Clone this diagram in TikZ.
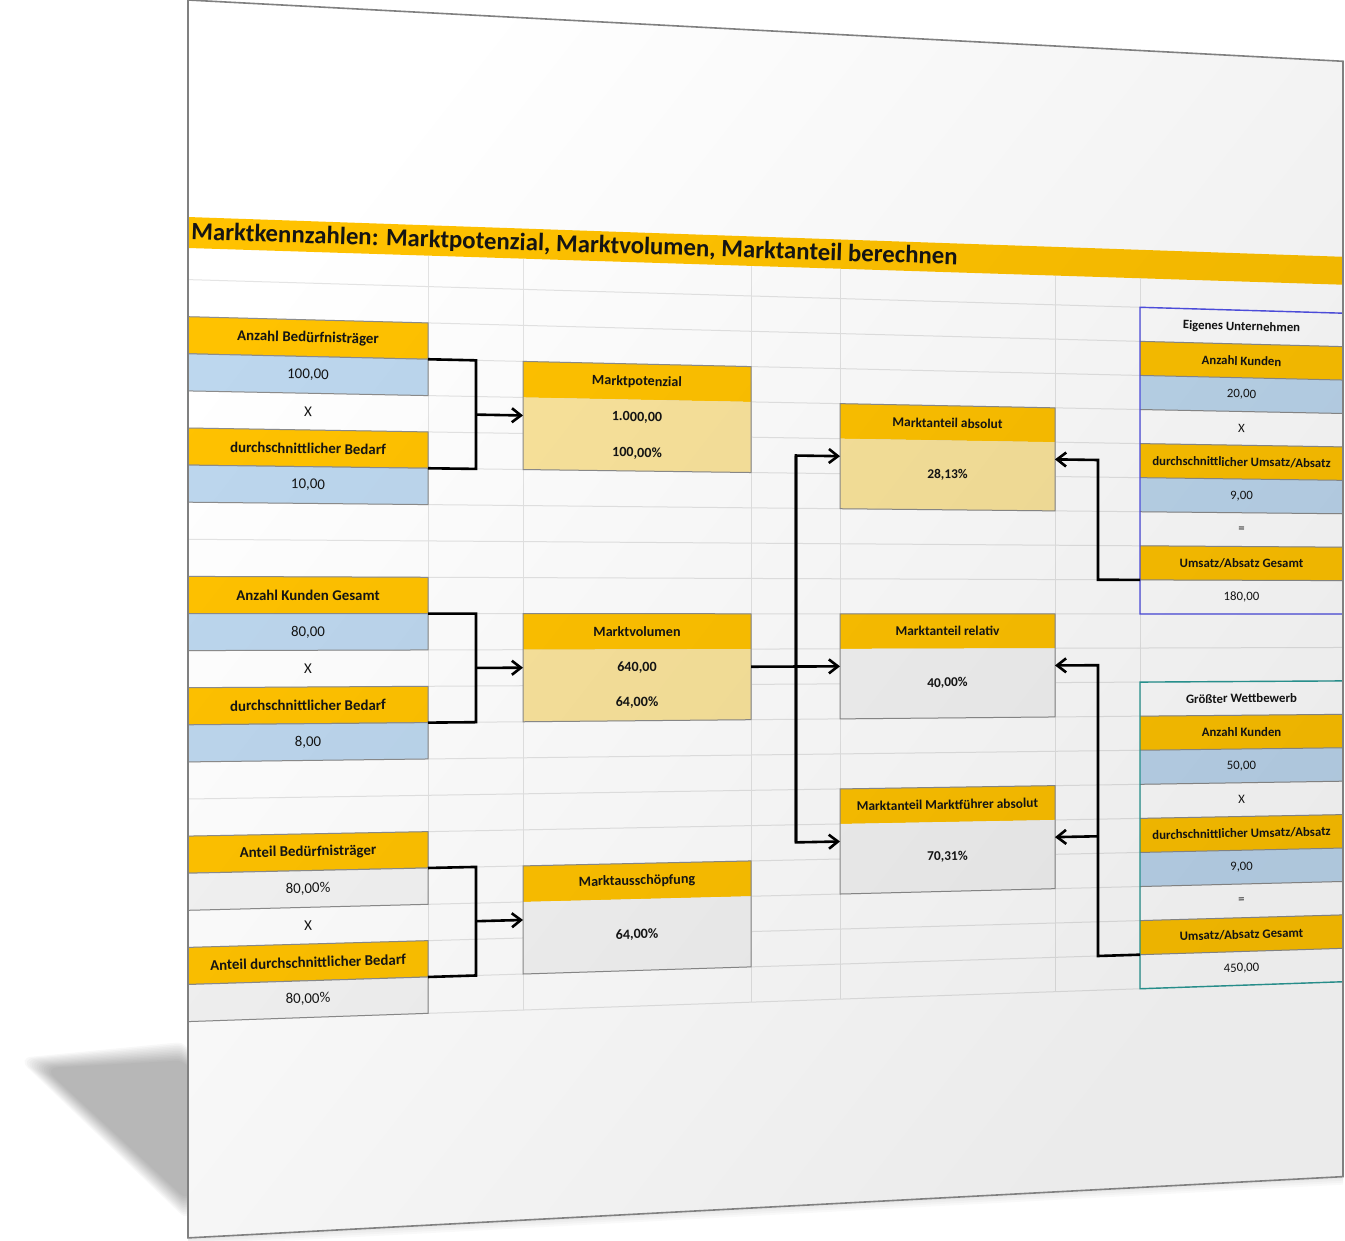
\documentclass[tikz,border=0pt]{standalone}
\usepackage{fontspec}
\setmainfont{Carlito}
\usetikzlibrary{arrows.meta,fadings}
\definecolor{gold}{HTML}{FFC200}
\definecolor{lgold}{HTML}{FAE49C}
\definecolor{lblue}{HTML}{BDD7EE}
\definecolor{lgray}{HTML}{F4F4F4}
\definecolor{gridc}{HTML}{E4E4E4}
\definecolor{bordc}{HTML}{8C8C8C}
\definecolor{ownc}{HTML}{5050E6}
\definecolor{compc}{HTML}{2A9A96}
\definecolor{inkc}{HTML}{151515}
\makeatletter
\def\sk@parse#1,#2\sk@end{\def\sk@x{#1}\def\sk@k{#2}}
\tikzdeclarecoordinatesystem{sk}{%
  \sk@parse#1\sk@end
  \pgfmathsetmacro\sk@v{316.7+37.1*(\sk@k)}%
  \pgfmathsetmacro\sk@X{0.5*(\sk@x)}%
  \pgfmathsetmacro\sk@Y{-0.5*(619+(\sk@v-619)*(1-(\sk@x-188)/11667))}%
  \pgfpoint{\sk@X pt}{\sk@Y pt}%
}
\makeatother
\newcommand\skcell[5]{\path[#5] (sk cs:#1,#3) -- (sk cs:#2,#3) -- (sk cs:#2,#4) -- (sk cs:#1,#4) -- cycle;}
\newcommand\celltxt[5]{\node[#4, rotate={atan((316.7+37.1*(#3)-619)/11667)}] (#1) at (sk cs:#2,#3) {#5};}
\tikzfading[name=pagefade, left color=transparent!100, middle color=transparent!98.5, right color=transparent!92]
\tikzset{
  txt/.style={inner sep=0pt, text=inkc},
  c1/.style={txt, font=\fontsize{7.45}{8}\selectfont},
  c1b/.style={txt, font=\fontsize{7.45}{8}\selectfont\bfseries},
  c3b/.style={txt, font=\fontsize{7.05}{8}\selectfont\bfseries},
  c5b/.style={txt, font=\fontsize{6.7}{8}\selectfont\bfseries},
  c7/.style={txt, font=\fontsize{6.4}{8}\selectfont},
  c7b/.style={txt, font=\fontsize{6.4}{8}\selectfont\bfseries},
  gridline/.style={draw=gridc, line width=0.5pt},
  cellline/.style={draw=bordc, line width=0.5pt},
  conn/.style={draw=black, line width=1.3pt, line join=miter},
  arr/.style={-{Straight Barb[length=4.5pt,width=7pt]}},
}
\begin{document}
\begin{tikzpicture}
\useasboundingbox (0pt,0pt) rectangle (672.5pt,-620.5pt);
% shadow
\begin{scope}[x=0.5pt,y=-0.5pt]
\foreach \i in {0,...,11}{
  \fill[black, opacity=0.026, rounded corners=7pt] (190,1060-1.7*\i) -- (44-2.4*\i,1068-0.9*\i) -- (190,1203+1.8*\i) -- cycle;
}
\foreach \i in {0,...,4}{
  \fill[black, opacity=0.025] (sk cs:188,24.83) -- (sk cs:1343,24.83) -- ([yshift=-1pt*\i]sk cs:1343,24.83) -- ([yshift=-1pt*\i]sk cs:188,24.83) -- cycle;
}
\end{scope}
% page
\skcell{188}{1343}{-8.536}{24.83}{fill=white}
% title band
\skcell{188}{1343}{-2.687}{-1.852}{fill=gold}
\node[txt, anchor=west, font=\fontsize{12.4}{14}\selectfont\bfseries, rotate={atan((232.5-619)/11667)}] (title) at (sk cs:191,-2.27) {Marktkennzahlen: Marktpotenzial, Marktvolumen, Marktanteil berechnen};
% grid
\foreach \k in {-1,...,19}{ \draw[gridline] (sk cs:188,\k) -- (sk cs:1343,\k); }
\foreach \x in {428,523,751,840,1055,1140}{ \draw[gridline] (sk cs:\x,-1.852) -- (sk cs:\x,19); }
% left column
\foreach \k in {0,7}{
  \skcell{188}{428}{\k}{\k+1}{fill=gold, cellline}
  \skcell{188}{428}{\k+1}{\k+2}{fill=lblue, cellline}
  \skcell{188}{428}{\k+3}{\k+4}{fill=gold, cellline}
  \skcell{188}{428}{\k+4}{\k+5}{fill=lblue, cellline}
}
\skcell{188}{428}{14}{15}{fill=gold, cellline}
\skcell{188}{428}{15}{16}{fill=lgray, cellline}
\skcell{188}{428}{17}{18}{fill=gold, cellline}
\skcell{188}{428}{18}{19}{fill=lgray, cellline}
% middle column
\skcell{523}{751}{1}{2}{fill=gold}
\skcell{523}{751}{2}{4}{fill=lgold}
\skcell{523}{751}{1}{4}{cellline}
\skcell{523}{751}{8}{9}{fill=gold}
\skcell{523}{751}{9}{11}{fill=lgold}
\skcell{523}{751}{8}{11}{cellline}
\skcell{523}{751}{15}{16}{fill=gold}
\skcell{523}{751}{16}{18}{fill=lgray}
\skcell{523}{751}{15}{18}{cellline}
% result column
\skcell{840}{1055}{2}{3}{fill=gold}
\skcell{840}{1055}{3}{5}{fill=lgold}
\skcell{840}{1055}{2}{5}{cellline}
\skcell{840}{1055}{8}{9}{fill=gold}
\skcell{840}{1055}{9}{11}{fill=lgray}
\skcell{840}{1055}{8}{11}{cellline}
\skcell{840}{1055}{13}{14}{fill=gold}
\skcell{840}{1055}{14}{16}{fill=lgray}
\skcell{840}{1055}{13}{16}{cellline}
% right column
\foreach \k/\c in {-1/ownc,10/compc}{
  \skcell{1140}{1343}{\k+1}{\k+2}{fill=gold}
  \skcell{1140}{1343}{\k+2}{\k+3}{fill=lblue}
  \skcell{1140}{1343}{\k+4}{\k+5}{fill=gold}
  \skcell{1140}{1343}{\k+5}{\k+6}{fill=lblue}
  \skcell{1140}{1343}{\k+7}{\k+8}{fill=gold}
  \foreach \j in {1,...,8}{ \draw[cellline] (sk cs:1140,\k+\j) -- (sk cs:1343,\k+\j); }
  \skcell{1140}{1343}{\k}{\k+9}{draw=\c, line width=0.7pt}
}
% texts left
\celltxt{a1}{308}{0.5}{c1b}{Anzahl Bedürfnisträger}
\celltxt{a2}{308}{1.5}{c1}{100,00}
\celltxt{a3}{308}{2.5}{c1}{X}
\celltxt{a4}{308}{3.5}{c1b}{durchschnittlicher Bedarf}
\celltxt{a5}{308}{4.5}{c1}{10,00}
\celltxt{b1}{308}{7.5}{c1b}{Anzahl Kunden Gesamt}
\celltxt{b2}{308}{8.5}{c1}{80,00}
\celltxt{b3}{308}{9.5}{c1}{X}
\celltxt{b4}{308}{10.5}{c1b}{durchschnittlicher Bedarf}
\celltxt{b5}{308}{11.5}{c1}{8,00}
\celltxt{d1}{308}{14.5}{c1b}{Anteil Bedürfnisträger}
\celltxt{d2}{308}{15.5}{c1}{80,00\%}
\celltxt{d3}{308}{16.5}{c1}{X}
\celltxt{d4}{308}{17.5}{c1b}{Anteil durchschnittlicher Bedarf}
\celltxt{d5}{308}{18.5}{c1}{80,00\%}
% texts middle
\celltxt{mp}{637}{1.5}{c3b}{Marktpotenzial}
\celltxt{mp1}{637}{2.5}{c3b}{1.000,00}
\celltxt{mp2}{637}{3.5}{c3b}{100,00\%}
\celltxt{mv}{637}{8.5}{c3b}{Marktvolumen}
\celltxt{mv1}{637}{9.5}{c3b}{640,00}
\celltxt{mv2}{637}{10.5}{c3b}{64,00\%}
\celltxt{ma}{637}{15.5}{c3b}{Marktausschöpfung}
\celltxt{ma1}{637}{17}{c3b}{64,00\%}
% texts results
\celltxt{r1}{947.5}{2.5}{c5b}{Marktanteil absolut}
\celltxt{r1v}{947.5}{4}{c5b}{28,13\%}
\celltxt{r2}{947.5}{8.5}{c5b}{Marktanteil relativ}
\celltxt{r2v}{947.5}{10}{c5b}{40,00\%}
\celltxt{r3}{947.5}{13.5}{c5b}{Marktanteil Marktführer absolut}
\celltxt{r3v}{947.5}{15}{c5b}{70,31\%}
% texts right
\celltxt{e0}{1241.5}{-0.5}{c7b}{Eigenes Unternehmen}
\celltxt{e1}{1241.5}{0.5}{c7b}{Anzahl Kunden}
\celltxt{e2}{1241.5}{1.5}{c7}{20,00}
\celltxt{e3}{1241.5}{2.5}{c7}{X}
\celltxt{e4}{1241.5}{3.5}{c7b}{durchschnittlicher Umsatz/Absatz}
\celltxt{e5}{1241.5}{4.5}{c7}{9,00}
\celltxt{e6}{1241.5}{5.5}{c7}{=}
\celltxt{e7}{1241.5}{6.5}{c7b}{Umsatz/Absatz Gesamt}
\celltxt{e8}{1241.5}{7.5}{c7}{180,00}
\celltxt{w0}{1241.5}{10.5}{c7b}{Größter Wettbewerb}
\celltxt{w1}{1241.5}{11.5}{c7b}{Anzahl Kunden}
\celltxt{w2}{1241.5}{12.5}{c7}{50,00}
\celltxt{w3}{1241.5}{13.5}{c7}{X}
\celltxt{w4}{1241.5}{14.5}{c7b}{durchschnittlicher Umsatz/Absatz}
\celltxt{w5}{1241.5}{15.5}{c7}{9,00}
\celltxt{w6}{1241.5}{16.5}{c7}{=}
\celltxt{w7}{1241.5}{17.5}{c7b}{Umsatz/Absatz Gesamt}
\celltxt{w8}{1241.5}{18.5}{c7}{450,00}
% connector points
\foreach \n/\k in {1/0,2/7,3/14}{
  \coordinate (br\n a) at (sk cs:428,\k+1);
  \coordinate (br\n b) at (sk cs:476,\k+1);
  \coordinate (br\n c) at (sk cs:476,\k+4);
  \coordinate (br\n d) at (sk cs:428,\k+4);
  \coordinate (br\n m) at (sk cs:476,\k+2.5);
  \coordinate (tg\n) at (sk cs:523,\k+2.5);
}
\coordinate (mvE) at (sk cs:751,9.5);
\coordinate (busT) at (sk cs:796,3.5);
\coordinate (busB) at (sk cs:796,14.5);
\coordinate (maW) at (sk cs:840,3.5);
\coordinate (mrW) at (sk cs:840,9.5);
\coordinate (mfW) at (sk cs:840,14.5);
\coordinate (euW) at (sk cs:1140,7);
\coordinate (euK) at (sk cs:1098,7);
\coordinate (euT) at (sk cs:1098,3.5);
\coordinate (maE) at (sk cs:1055,3.5);
\coordinate (gwW) at (sk cs:1140,18);
\coordinate (gwK) at (sk cs:1098,18);
\coordinate (gwT) at (sk cs:1098,9.5);
\coordinate (gwM) at (sk cs:1098,14.5);
\coordinate (mrE) at (sk cs:1055,9.5);
\coordinate (mfE) at (sk cs:1055,14.5);
% connectors
\foreach \n in {1,2,3}{
  \draw[conn] (br\n a) -- (br\n b) -- (br\n c) -- (br\n d);
  \draw[conn, arr] (br\n m) -- (tg\n);
}
\draw[conn, arr] (mvE) -- (mrW);
\draw[conn, arr] (busB) -- (busT) -- (maW);
\draw[conn, arr] (busT) -- (busB) -- (mfW);
\draw[conn, arr] (euW) -- (euK) -- (euT) -- (maE);
\draw[conn, arr] (gwW) -- (gwK) -- (gwT) -- (mrE);
\draw[conn, arr] (gwM) -- (mfE);
% lighting overlay and page edge
\fill[black, path fading=pagefade, fading angle=-40] (sk cs:188,-8.536) -- (sk cs:1343,-8.536) -- (sk cs:1343,24.83) -- (sk cs:188,24.83) -- cycle;
\draw[black!50, line width=0.8pt] (sk cs:188,-8.536) -- (sk cs:1343,-8.536) -- (sk cs:1343,24.83) -- (sk cs:188,24.83) -- cycle;
\end{tikzpicture}
\end{document}
